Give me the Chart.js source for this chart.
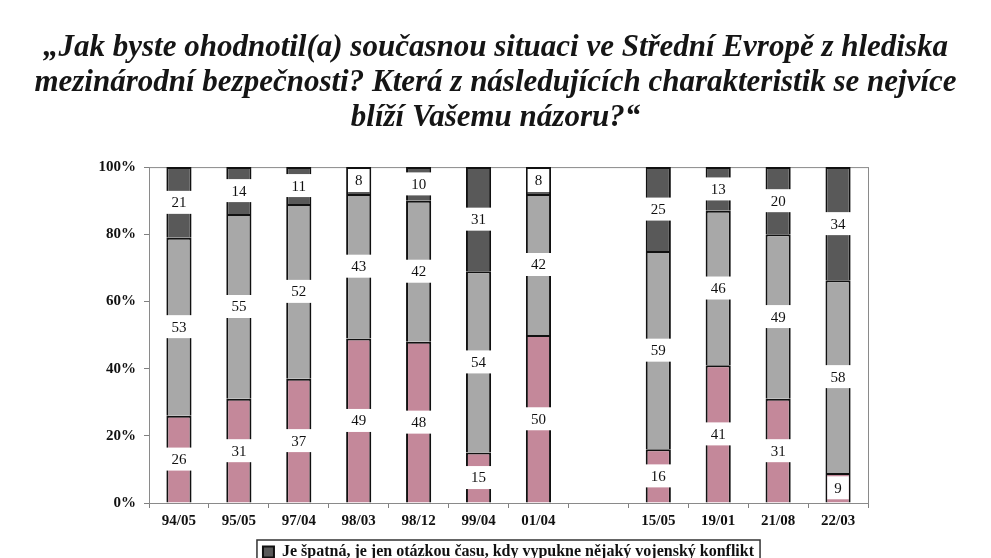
<!DOCTYPE html>
<html>
<head>
<meta charset="utf-8">
<script src="https://cdn.jsdelivr.net/npm/chart.js@4.4.1/dist/chart.umd.min.js"></script>
<style>
  html, body { margin: 0; padding: 0; background: #fff; overflow: hidden; }
  #wrap { width: 991px; height: 580px; }
</style>
</head>
<body>
<div id="wrap"><canvas id="surveyChart"></canvas></div>
<script>
// survey waves (empty slot = gap between 01/04 and 15/05)
const waves = ['94/05', '95/05', '97/04', '98/03', '98/12', '99/04', '01/04', '', '15/05', '19/01', '21/08', '22/03'];

// answer shares in % as printed on the bars
const goodShare = [26, 31, 37, 49, 48, 15, 50, null, 16, 41, 31, 9];
const okShare   = [53, 55, 52, 43, 42, 54, 42, null, 59, 46, 49, 58];
const badShare  = [21, 14, 11, 8, 10, 31, 8, null, 25, 13, 20, 34];

const yTicks = [0, 20, 40, 60, 80, 100];

const titleLines = [
    '„Jak byste ohodnotil(a) současnou situaci ve Střední Evropě z hlediska',
    'mezinárodní bezpečnosti? Která z následujících charakteristik se nejvíce',
    'blíží Vašemu názoru?“'
];
const badLabel = 'Je špatná, je jen otázkou času, kdy vypukne nějaký vojenský konflikt';

// 100% stacked: scale each column to its own total
function toPercent(arr) {
    return arr.map((v, i) => {
        if (v === null) return null;
        const total = goodShare[i] + okShare[i] + badShare[i];
        return v / total * 100;
    });
}

const serif = '"Liberation Serif", "Times New Roman", serif';

// white boxes with the raw numbers in the middle of each segment
const valueLabels = {
    id: 'valueLabels',
    afterDatasetsDraw(chart) {
        const ctx = chart.ctx;
        ctx.save();
        ctx.font = '15px ' + serif;
        ctx.textAlign = 'center';
        ctx.textBaseline = 'middle';
        chart.data.datasets.forEach((ds, i) => {
            const meta = chart.getDatasetMeta(i);
            meta.data.forEach((el, j) => {
                const raw = ds.raw[j];
                if (raw === null) return;
                const txt = String(raw);
                const w = ctx.measureText(txt).width + 14;
                const h = 23;
                const cy = (el.y + el.base) / 2;
                ctx.fillStyle = '#ffffff';
                ctx.fillRect(el.x - w / 2, cy - h / 2, w, h);
                ctx.fillStyle = '#111111';
                ctx.fillText(txt, el.x, cy + 1);
            });
        });
        ctx.restore();
    }
};

// gray frame round the plot and a box round the legend item
const frames = {
    id: 'frames',
    beforeDatasetsDraw(chart) {
        const a = chart.chartArea;
        const ctx = chart.ctx;
        ctx.save();
        ctx.strokeStyle = '#8a8a8a';
        ctx.lineWidth = 1;
        ctx.strokeRect(a.left + 0.5, a.top + 0.5, a.right - a.left, a.bottom - a.top);
        ctx.restore();
    },
    afterDraw(chart) {
        const hb = chart.legend.legendHitBoxes[0];
        if (!hb) return;
        const ctx = chart.ctx;
        ctx.save();
        ctx.strokeStyle = '#333333';
        ctx.lineWidth = 1.5;
        ctx.strokeRect(hb.left - 6, hb.top - 4, hb.width + 12, 60);
        ctx.restore();
    }
};

document.addEventListener('DOMContentLoaded', function() {
    const ctx = document.getElementById('surveyChart').getContext('2d');
    new Chart(ctx, {
        type: 'bar',
        data: {
            labels: waves,
            datasets: [
                { label: 'dobrá', data: toPercent(goodShare), raw: goodShare, backgroundColor: '#c4889a' },
                { label: 'ucházející', data: toPercent(okShare), raw: okShare, backgroundColor: '#a8a8a8' },
                { label: badLabel, data: toPercent(badShare), raw: badShare, backgroundColor: '#595959' }
            ].map(d => Object.assign(d, {
                borderColor: '#111111',
                borderWidth: 2,
                barPercentage: 0.42,
                categoryPercentage: 1.0
            }))
        },
        options: {
            responsive: true,
            maintainAspectRatio: false,
            animation: false,
            layout: { padding: { left: 20, right: 20, top: 0, bottom: 10 } },
            scales: {
                x: {
                    stacked: true,
                    grid: { display: true, drawOnChartArea: false, offset: true, tickLength: 5, color: '#808080' },
                    border: { display: true, color: '#808080' },
                    ticks: { color: '#111', font: { family: serif, size: 15, weight: 'bold' }, padding: 4 },
                    afterFit(s) { s.height = 35; }
                },
                y: {
                    stacked: true,
                    min: 0,
                    max: 100,
                    afterBuildTicks(s) { s.ticks = yTicks.map(v => ({ value: v })); },
                    grid: { display: true, drawOnChartArea: false, tickLength: 5, color: '#808080' },
                    border: { display: true, color: '#808080' },
                    ticks: {
                        color: '#111',
                        font: { family: serif, size: 15, weight: 'bold' },
                        padding: 8,
                        callback: v => v + '%'
                    },
                    afterFit(s) { s.width = 129; }
                },
                // empty right-hand margin of the plot
                yRight: {
                    position: 'right',
                    display: true,
                    grid: { display: false },
                    border: { display: false },
                    ticks: { display: false },
                    afterFit(s) { s.width = 103; }
                }
            },
            plugins: {
                title: {
                    display: true,
                    text: titleLines,
                    color: '#151515',
                    font: { family: serif, size: 31, weight: 'bold', style: 'italic', lineHeight: 1.13 },
                    padding: { top: 30, bottom: 32 }
                },
                legend: {
                    position: 'bottom',
                    fullSize: false,
                    labels: {
                        filter: item => item.datasetIndex === 2,
                        color: '#111',
                        boxWidth: 11,
                        boxHeight: 11,
                        padding: 6,
                        font: { family: serif, size: 16, weight: 'bold' }
                    }
                },
                tooltip: { enabled: false }
            }
        },
        plugins: [valueLabels, frames]
    });
});
</script>
</body>
</html>
